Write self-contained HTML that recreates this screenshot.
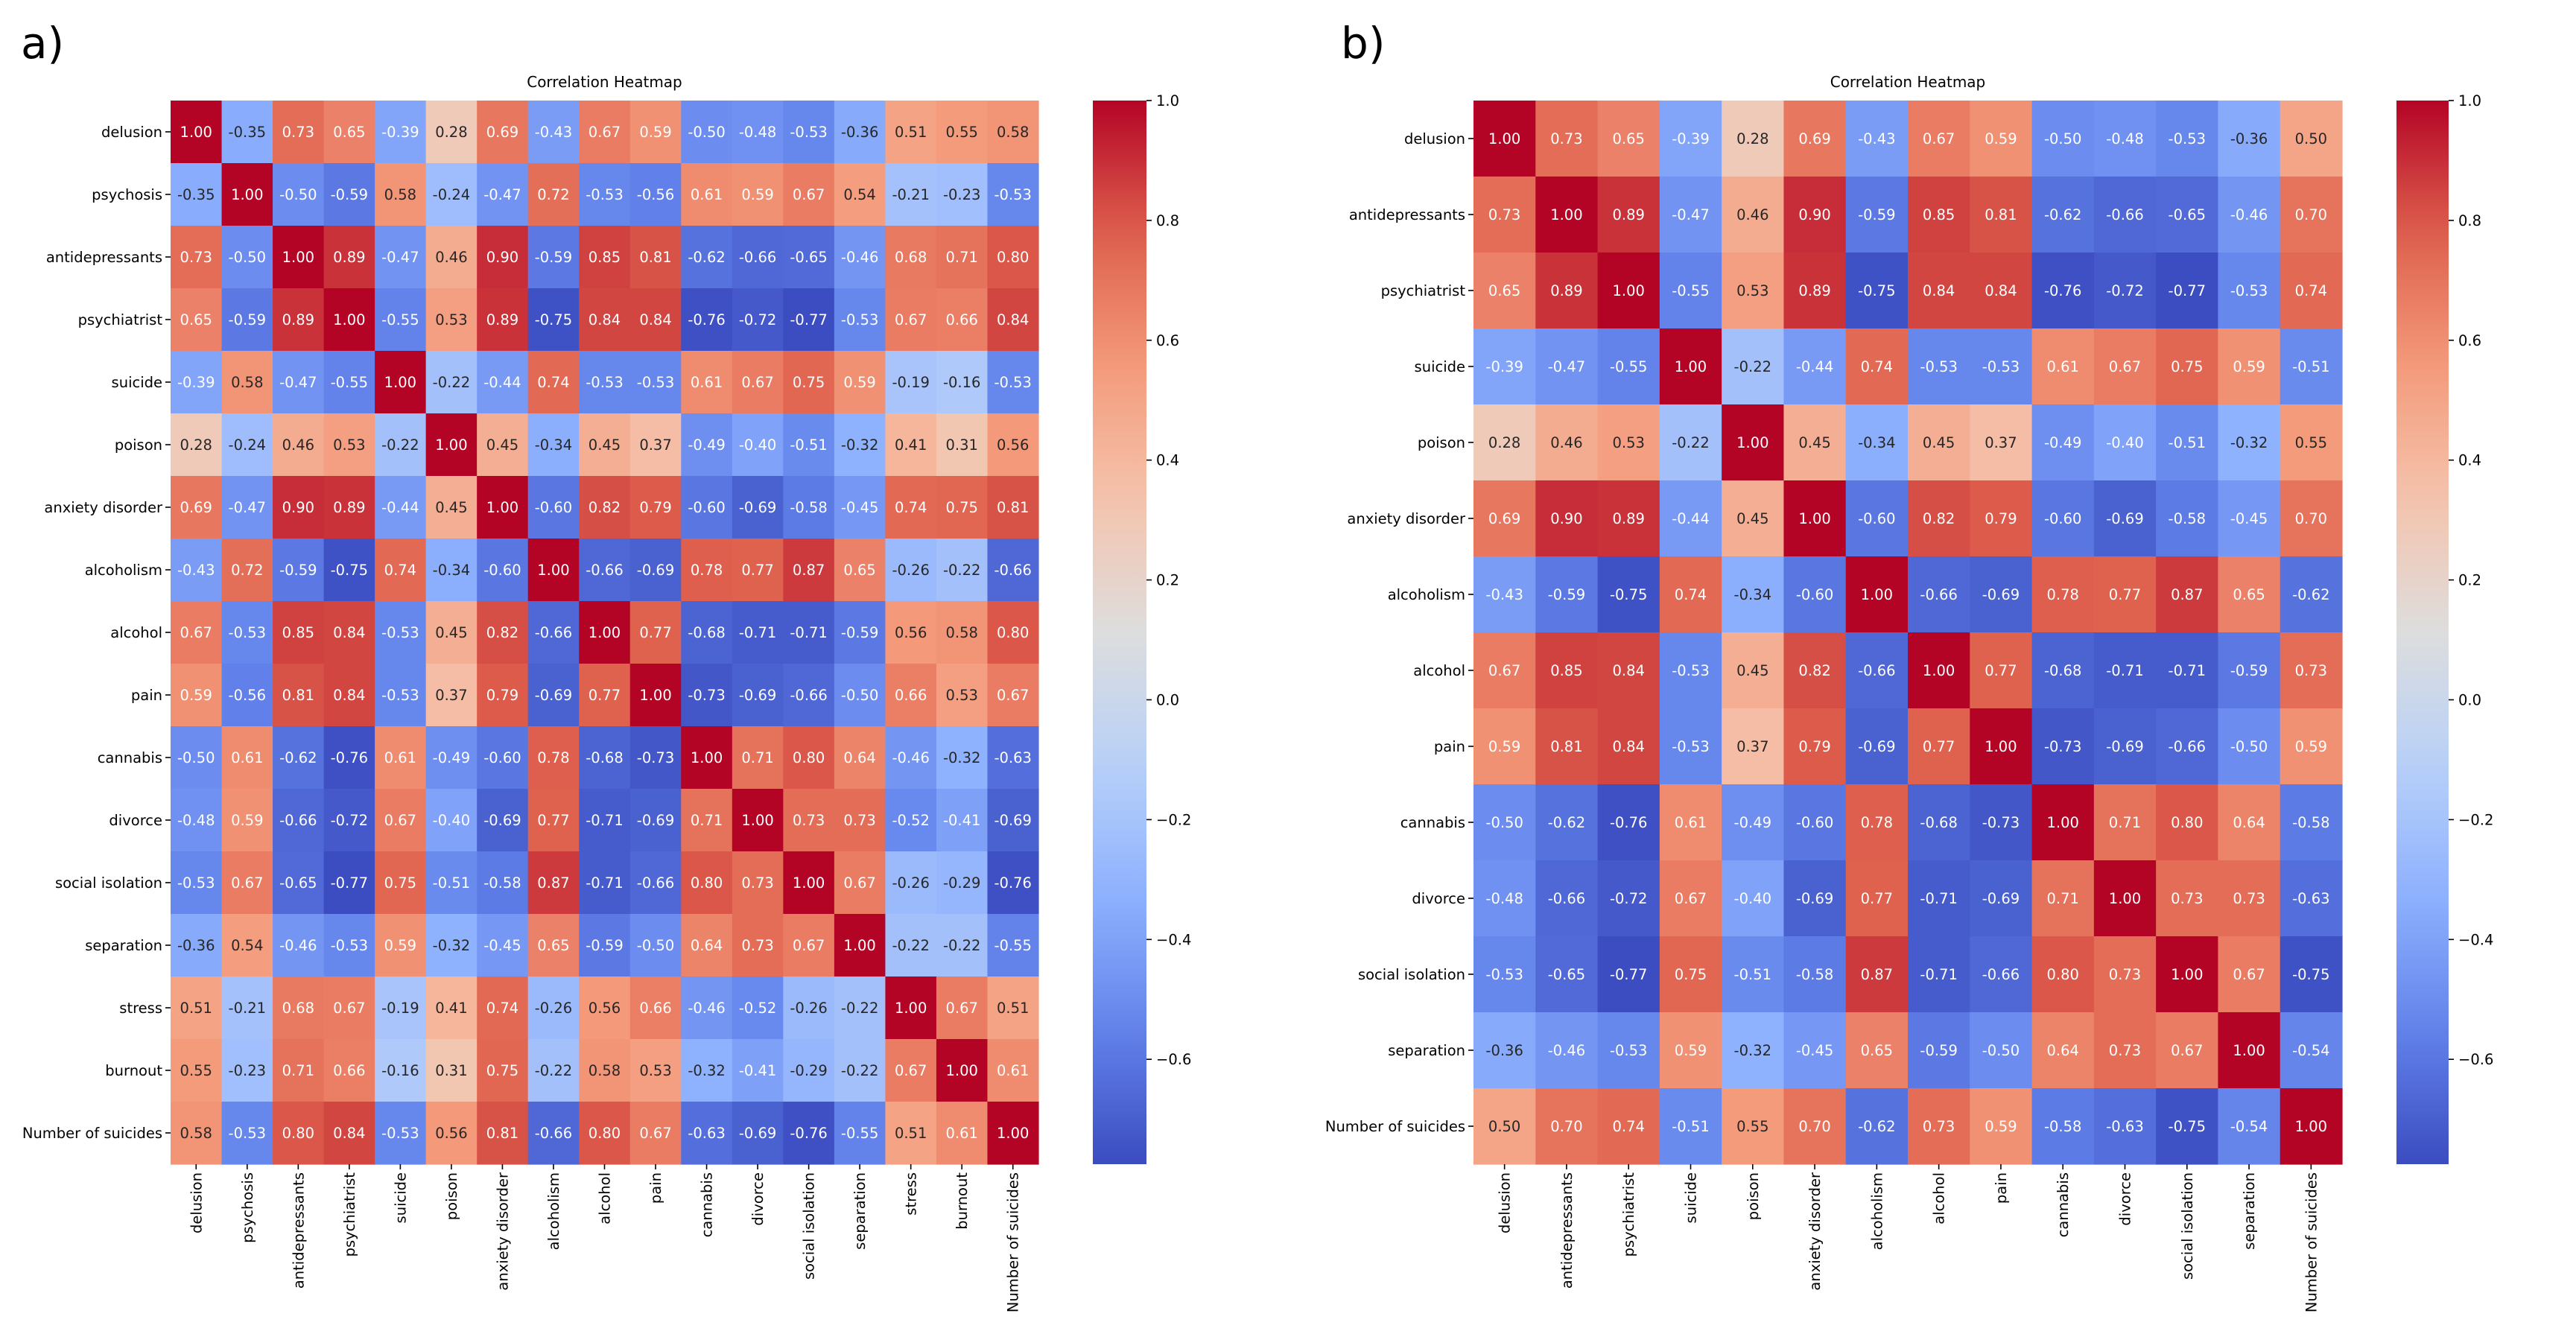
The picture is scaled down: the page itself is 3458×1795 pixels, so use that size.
<!DOCTYPE html>
<html><head><meta charset="utf-8"><style>
html,body{margin:0;padding:0;background:#fff;}
svg text{font-family:"DejaVu Sans","Liberation Sans",sans-serif;}
</style></head><body>
<svg id="fig" width="3458" height="1790" xmlns="http://www.w3.org/2000/svg">
<text x="28" y="78" font-size="58" fill="#000">a)</text>
<text x="1800" y="78" font-size="58" fill="#000">b)</text>
</svg>
<script>
const labelsA = ["delusion","psychosis","antidepressants","psychiatrist","suicide","poison","anxiety disorder","alcoholism","alcohol","pain","cannabis","divorce","social isolation","separation","stress","burnout","Number of suicides"];
const valuesA = [
[1.00,-0.35,0.73,0.65,-0.39,0.28,0.69,-0.43,0.67,0.59,-0.50,-0.48,-0.53,-0.36,0.51,0.55,0.58],
[-0.35,1.00,-0.50,-0.59,0.58,-0.24,-0.47,0.72,-0.53,-0.56,0.61,0.59,0.67,0.54,-0.21,-0.23,-0.53],
[0.73,-0.50,1.00,0.89,-0.47,0.46,0.90,-0.59,0.85,0.81,-0.62,-0.66,-0.65,-0.46,0.68,0.71,0.80],
[0.65,-0.59,0.89,1.00,-0.55,0.53,0.89,-0.75,0.84,0.84,-0.76,-0.72,-0.77,-0.53,0.67,0.66,0.84],
[-0.39,0.58,-0.47,-0.55,1.00,-0.22,-0.44,0.74,-0.53,-0.53,0.61,0.67,0.75,0.59,-0.19,-0.16,-0.53],
[0.28,-0.24,0.46,0.53,-0.22,1.00,0.45,-0.34,0.45,0.37,-0.49,-0.40,-0.51,-0.32,0.41,0.31,0.56],
[0.69,-0.47,0.90,0.89,-0.44,0.45,1.00,-0.60,0.82,0.79,-0.60,-0.69,-0.58,-0.45,0.74,0.75,0.81],
[-0.43,0.72,-0.59,-0.75,0.74,-0.34,-0.60,1.00,-0.66,-0.69,0.78,0.77,0.87,0.65,-0.26,-0.22,-0.66],
[0.67,-0.53,0.85,0.84,-0.53,0.45,0.82,-0.66,1.00,0.77,-0.68,-0.71,-0.71,-0.59,0.56,0.58,0.80],
[0.59,-0.56,0.81,0.84,-0.53,0.37,0.79,-0.69,0.77,1.00,-0.73,-0.69,-0.66,-0.50,0.66,0.53,0.67],
[-0.50,0.61,-0.62,-0.76,0.61,-0.49,-0.60,0.78,-0.68,-0.73,1.00,0.71,0.80,0.64,-0.46,-0.32,-0.63],
[-0.48,0.59,-0.66,-0.72,0.67,-0.40,-0.69,0.77,-0.71,-0.69,0.71,1.00,0.73,0.73,-0.52,-0.41,-0.69],
[-0.53,0.67,-0.65,-0.77,0.75,-0.51,-0.58,0.87,-0.71,-0.66,0.80,0.73,1.00,0.67,-0.26,-0.29,-0.76],
[-0.36,0.54,-0.46,-0.53,0.59,-0.32,-0.45,0.65,-0.59,-0.50,0.64,0.73,0.67,1.00,-0.22,-0.22,-0.55],
[0.51,-0.21,0.68,0.67,-0.19,0.41,0.74,-0.26,0.56,0.66,-0.46,-0.52,-0.26,-0.22,1.00,0.67,0.51],
[0.55,-0.23,0.71,0.66,-0.16,0.31,0.75,-0.22,0.58,0.53,-0.32,-0.41,-0.29,-0.22,0.67,1.00,0.61],
[0.58,-0.53,0.80,0.84,-0.53,0.56,0.81,-0.66,0.80,0.67,-0.63,-0.69,-0.76,-0.55,0.51,0.61,1.00]];
const labelsB = ["delusion","antidepressants","psychiatrist","suicide","poison","anxiety disorder","alcoholism","alcohol","pain","cannabis","divorce","social isolation","separation","Number of suicides"];
const valuesB = [
[1.00,0.73,0.65,-0.39,0.28,0.69,-0.43,0.67,0.59,-0.50,-0.48,-0.53,-0.36,0.50],
[0.73,1.00,0.89,-0.47,0.46,0.90,-0.59,0.85,0.81,-0.62,-0.66,-0.65,-0.46,0.70],
[0.65,0.89,1.00,-0.55,0.53,0.89,-0.75,0.84,0.84,-0.76,-0.72,-0.77,-0.53,0.74],
[-0.39,-0.47,-0.55,1.00,-0.22,-0.44,0.74,-0.53,-0.53,0.61,0.67,0.75,0.59,-0.51],
[0.28,0.46,0.53,-0.22,1.00,0.45,-0.34,0.45,0.37,-0.49,-0.40,-0.51,-0.32,0.55],
[0.69,0.90,0.89,-0.44,0.45,1.00,-0.60,0.82,0.79,-0.60,-0.69,-0.58,-0.45,0.70],
[-0.43,-0.59,-0.75,0.74,-0.34,-0.60,1.00,-0.66,-0.69,0.78,0.77,0.87,0.65,-0.62],
[0.67,0.85,0.84,-0.53,0.45,0.82,-0.66,1.00,0.77,-0.68,-0.71,-0.71,-0.59,0.73],
[0.59,0.81,0.84,-0.53,0.37,0.79,-0.69,0.77,1.00,-0.73,-0.69,-0.66,-0.50,0.59],
[-0.50,-0.62,-0.76,0.61,-0.49,-0.60,0.78,-0.68,-0.73,1.00,0.71,0.80,0.64,-0.58],
[-0.48,-0.66,-0.72,0.67,-0.40,-0.69,0.77,-0.71,-0.69,0.71,1.00,0.73,0.73,-0.63],
[-0.53,-0.65,-0.77,0.75,-0.51,-0.58,0.87,-0.71,-0.66,0.80,0.73,1.00,0.67,-0.75],
[-0.36,-0.46,-0.53,0.59,-0.32,-0.45,0.65,-0.59,-0.50,0.64,0.73,0.67,1.00,-0.54],
[0.50,0.70,0.74,-0.51,0.55,0.70,-0.62,0.73,0.59,-0.58,-0.63,-0.75,-0.54,1.00]];
const cbarTicks = [1.0,0.8,0.6,0.4,0.2,0.0,-0.2,-0.4,-0.6];
const cbarTickLabels = ["1.0","0.8","0.6","0.4","0.2","0.0","\u22120.2","\u22120.4","\u22120.6"];

const NS="http://www.w3.org/2000/svg";
const svg=document.getElementById('fig');
const CM=[[0,59,76,192],[0.125,98,130,234],[0.25,141,176,254],[0.375,184,208,249],[0.5,221,221,221],[0.625,245,196,173],[0.75,244,154,123],[0.875,222,96,77],[1,180,4,38]];
function cmap(t){t=Math.max(0,Math.min(1,t));for(let i=1;i<CM.length;i++){if(t<=CM[i][0]){const a=CM[i-1],b=CM[i],f=(t-a[0])/(b[0]-a[0]);return [0,1,2].map(k=>Math.round(a[k+1]+(b[k+1]-a[k+1])*f));}}return CM[8].slice(1);}
function lum(c){const l=c.map(v=>{v/=255;return v<=0.03928?v/12.92:Math.pow((v+0.055)/1.055,2.4);});return 0.2126*l[0]+0.7152*l[1]+0.0722*l[2];}
function el(tag,attrs,parent){const e=document.createElementNS(NS,tag);for(const k in attrs)e.setAttribute(k,attrs[k]);(parent||svg).appendChild(e);return e;}

function heatmap(labels,values,x0,y0,x1,y1,cbx0,cbx1,prefix){
  const vmin=-0.775,vmax=1;
  const n=labels.length,cw=(x1-x0)/n,ch=(y1-y0)/n;
  const xs=i=>x0+i*cw, ys=j=>y0+j*ch;
  const g=el('g',{});
  
  
  const t=el('text',{x:(x0+x1)/2,y:y0-18,'font-size':20,'text-anchor':'middle',fill:'#000'},g);
  t.textContent='Correlation Heatmap';
  
  
  for(let r=0;r<n;r++)for(let c=0;c<n;c++){
    const v=values[r][c];const col=cmap((v-vmin)/(vmax-vmin));
    const rect=el('rect',{x:xs(c),y:ys(r),width:cw+0.6,height:ch+0.6,fill:`rgb(${col})`},g);
    
    
    const tx=el('text',{x:xs(c)+cw/2,y:ys(r)+ch/2+7,'font-size':19.5,'text-anchor':'middle',fill:lum(col)>0.408?'#262626':'#fff'},g);
    tx.textContent=v.toFixed(2);
    
    
  }
  for(let i=0;i<n;i++){
    const yc=ys(i)+ch/2;
    el('line',{x1:x0-7,x2:x0,y1:yc,y2:yc,stroke:'#000','stroke-width':1.6},g);
    const yl=el('text',{x:x0-11,y:yc+7,'font-size':19.5,'text-anchor':'end',fill:'#000'},g);
    yl.textContent=labels[i];
    
    
    const xc=xs(i)+cw/2;
    el('line',{x1:xc,x2:xc,y1:y1,y2:y1+7,stroke:'#000','stroke-width':1.6},g);
    const xl=el('text',{x:0,y:0,'font-size':19.5,'text-anchor':'end',fill:'#000',transform:`translate(${xc+7},${y1+11}) rotate(-90)`},g);
    xl.textContent=labels[i];
    
    
  }
  // colorbar
  const gid=prefix+'-grad';
  const defs=el('defs',{},g);
  const lg=el('linearGradient',{id:gid,x1:0,y1:1,x2:0,y2:0},defs);
  for(let k=0;k<=20;k++){const col=cmap(k/20);el('stop',{offset:k/20,'stop-color':`rgb(${col})`},lg);}
  const cb=el('rect',{x:cbx0,y:y0,width:cbx1-cbx0,height:y1-y0,fill:`url(#${gid})`},g);
  
  
  const cy=v=>y1-(v-vmin)/(vmax-vmin)*(y1-y0);
  cbarTicks.forEach((v,i)=>{
    const yy=cy(v);
    el('line',{x1:cbx1,x2:cbx1+7,y1:yy,y2:yy,stroke:'#000','stroke-width':1.6},g);
    const tl=el('text',{x:cbx1+13,y:yy+7,'font-size':19.5,fill:'#000'},g);
    tl.textContent=cbarTickLabels[i];
    
    
  });
}
heatmap(labelsA,valuesA,229,135,1394,1563,1467,1539,'panel-a');
heatmap(labelsB,valuesB,1978,135,3144,1563,3217,3287,'panel-b');
</script>
</body></html>
